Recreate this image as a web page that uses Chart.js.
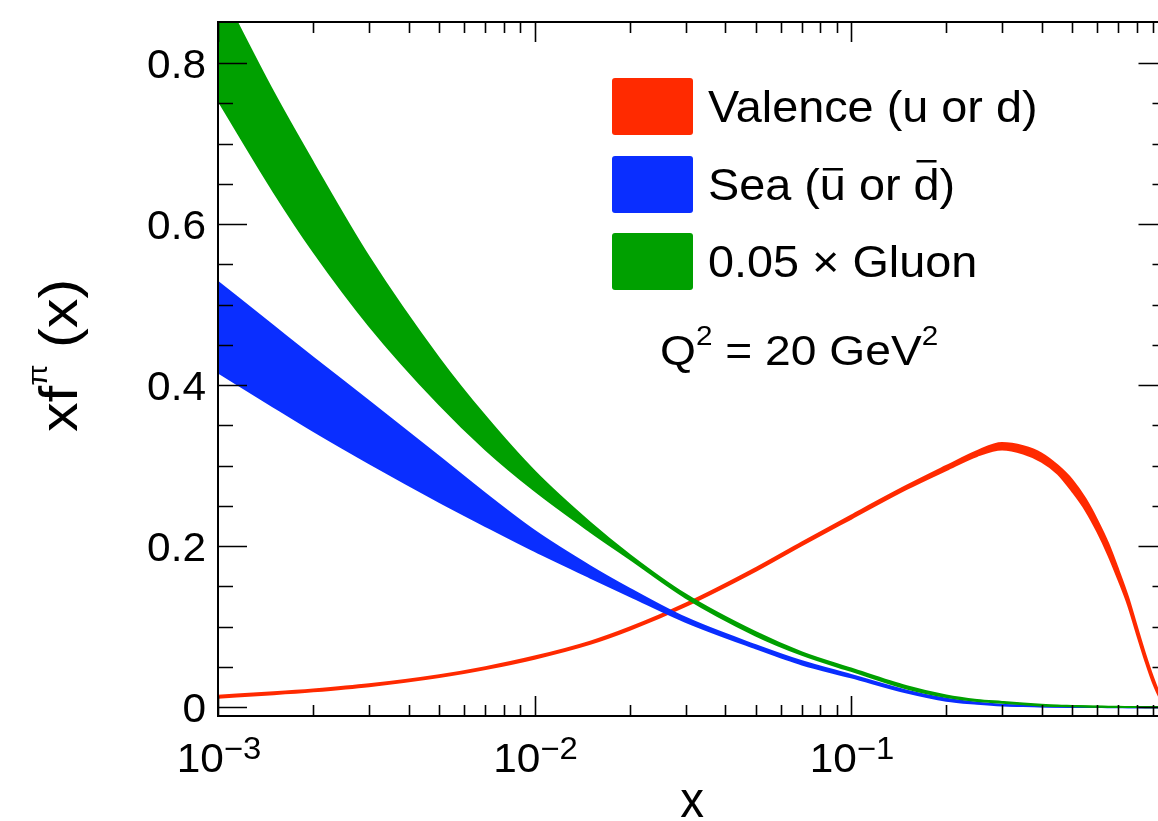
<!DOCTYPE html>
<html>
<head>
<meta charset="utf-8">
<script src="https://cdn.jsdelivr.net/npm/chart.js@4.4.1/dist/chart.umd.min.js"></script>
<style>
  html, body { margin: 0; padding: 0; background: #fff; overflow: hidden; }
  #wrap { width: 1180px; height: 821px; }
</style>
</head>
<body>
<div id="wrap"><canvas id="pdf" width="1180" height="821"></canvas></div>
<script>
// x grid of the curves (momentum fraction)
const xs = [0.001, 0.0015, 0.002, 0.003, 0.005, 0.007, 0.01, 0.015, 0.02, 0.03, 0.05,
            0.07, 0.1, 0.15, 0.2, 0.25, 0.3, 0.35, 0.4, 0.45, 0.5, 0.55, 0.6, 0.65,
            0.7, 0.75, 0.8, 0.85, 0.9, 0.95, 1.0];

// valence band (upper / lower edge)
const valenceHi = [0.0142, 0.0184, 0.0220, 0.0284, 0.0397, 0.0497, 0.0628, 0.0814, 0.0990, 0.1286, 0.1728,
                   0.2048, 0.2380, 0.2750, 0.2995, 0.3180, 0.3280, 0.3240, 0.3150, 0.3000, 0.2820, 0.2590,
                   0.2320, 0.2030, 0.1700, 0.1370, 0.1000, 0.0660, 0.0370, 0.0140, 0];
const valenceLo = [0.0118, 0.0160, 0.0196, 0.0260, 0.0373, 0.0473, 0.0602, 0.0786, 0.0960, 0.1254, 0.1692,
                   0.2012, 0.2340, 0.2710, 0.2945, 0.3120, 0.3200, 0.3150, 0.3050, 0.2900, 0.2680, 0.2450,
                   0.2180, 0.1890, 0.1580, 0.1270, 0.0910, 0.0580, 0.0300, 0.0100, 0];

// sea band
const seaHi = [0.528, 0.473, 0.434, 0.380, 0.311, 0.265, 0.219, 0.175, 0.147, 0.111, 0.077,
               0.057, 0.040, 0.0205, 0.0105, 0.0055, 0.003, 0.002, 0.0012, 0.0008, 0.0005, 0.0003,
               0.0002, 0.00015, 0.0001, 0, 0, 0, 0, 0, 0];
const seaLo = [0.416, 0.373, 0.343, 0.303, 0.255, 0.225, 0.194, 0.161, 0.138, 0.106, 0.073,
               0.053, 0.037, 0.018, 0.008, 0.0042, 0.002, 0.0013, 0.0008, 0.0005, 0.0003, 0.0002,
               0.0001, 0, 0, 0, 0, 0, 0, 0, 0];

// 0.05 x gluon band
const gluonHi = [0.897, 0.763, 0.676, 0.559, 0.433, 0.361, 0.293, 0.229, 0.189, 0.140, 0.093,
                 0.068, 0.048, 0.026, 0.0145, 0.009, 0.0065, 0.0045, 0.003, 0.002, 0.0015, 0.001,
                 0.0008, 0.0006, 0.0004, 0.0003, 0.0002, 0.0001, 0.0001, 0, 0];
const gluonLo = [0.754, 0.640, 0.566, 0.474, 0.376, 0.320, 0.269, 0.218, 0.184, 0.136, 0.089,
                 0.065, 0.045, 0.023, 0.0125, 0.0075, 0.0055, 0.0037, 0.002, 0.0014, 0.001, 0.0007,
                 0.0005, 0.0003, 0.0002, 0.0001, 0.0001, 0, 0, 0, 0];

const legendLabels = ['Valence (u or d)', 'Sea (u or d)', '0.05 \u00d7 Gluon'];
const yTickValues = [0, 0.2, 0.4, 0.6, 0.8];
const yTickLabels = ['0', '0.2', '0.4', '0.6', '0.8'];
const xTickValues = [0.001, 0.01, 0.1];
const xTickExps = ['\u22123', '\u22122', '\u22121'];

const COLORS = {
  valence: '#ff2a00',
  sea: '#0a2eff',
  gluon: '#00a000'
};

const FONT = "'Liberation Sans', Arial, Helvetica, sans-serif";

function band(name, hi, lo, color) {
  const common = {
    borderColor: color,
    backgroundColor: color,
    borderWidth: 2,
    pointRadius: 0,
    cubicInterpolationMode: 'monotone',
    clip: 0
  };
  return [
    { ...common, label: name + ' upper', data: xs.map((x, i) => ({ x, y: hi[i] })), fill: '+1' },
    { ...common, label: name + ' lower', data: xs.map((x, i) => ({ x, y: lo[i] })), fill: false }
  ];
}

// draw a run of text pieces {t, size, dy}, stretched horizontally by sx
function drawRich(ctx, x, y, parts, sx = 1) {
  ctx.save();
  ctx.translate(x, y);
  ctx.scale(sx, 1);
  let cx = 0;
  parts.forEach(p => {
    ctx.font = p.size + 'px ' + FONT;
    ctx.fillText(p.t, cx, p.dy || 0);
    cx += ctx.measureText(p.t).width;
  });
  ctx.restore();
  return x + cx * sx;
}

function richWidth(ctx, parts, sx = 1) {
  let w = 0;
  parts.forEach(p => {
    ctx.font = p.size + 'px ' + FONT;
    w += ctx.measureText(p.t).width;
  });
  return w * sx;
}

const rootFrame = {
  id: 'rootFrame',
  afterDraw(chart) {
    const { ctx, chartArea: a, scales: { x, y } } = chart;
    ctx.save();

    // frame
    ctx.strokeStyle = '#000';
    ctx.lineWidth = 2;
    ctx.strokeRect(a.left, a.top, a.right - a.left, a.bottom - a.top);

    // ticks, pointing inwards
    ctx.lineWidth = 1.6;
    ctx.beginPath();
    for (let i = 0; i <= 16; i++) {
      const py = Math.round(y.getPixelForValue(i * 0.05)) + 0.5;
      const len = i % 4 === 0 ? 29 : 15;
      ctx.moveTo(a.left, py); ctx.lineTo(a.left + len, py);
      ctx.moveTo(a.right, py); ctx.lineTo(a.right - len, py);
    }
    [0.001, 0.01, 0.1].forEach(d => {
      for (let k = 1; k <= 9; k++) {
        const px = Math.round(x.getPixelForValue(d * k)) + 0.5;
        const len = k === 1 ? 20 : 11;
        ctx.moveTo(px, a.bottom); ctx.lineTo(px, a.bottom - len);
        ctx.moveTo(px, a.top); ctx.lineTo(px, a.top + len);
      }
    });
    ctx.stroke();

    ctx.fillStyle = '#000';
    ctx.textAlign = 'left';
    ctx.textBaseline = 'alphabetic';

    // y tick labels, right aligned
    yTickValues.forEach((v, i) => {
      const parts = [{ t: yTickLabels[i], size: 40 }];
      const w = richWidth(ctx, parts, 1.06);
      drawRich(ctx, 206 - w, y.getPixelForValue(v) + 14.5, parts, 1.06);
    });

    // x tick labels 10^n
    xTickValues.forEach((v, i) => {
      const parts = [
        { t: '10', size: 40 },
        { t: xTickExps[i], size: 31, dy: -13 }
      ];
      const w = richWidth(ctx, parts, 1.06);
      drawRich(ctx, x.getPixelForValue(v) - w / 2 + 1, 772, parts, 1.06);
    });

    // axis titles
    const xt = [{ t: 'x', size: 50 }];
    drawRich(ctx, 692 - richWidth(ctx, xt, 0.95) / 2, 817, xt, 0.95);

    ctx.save();
    ctx.translate(77, 432);
    ctx.rotate(-Math.PI / 2);
    drawRich(ctx, 0, 0, [
      { t: 'xf', size: 54 },
      { t: '\u03c0', size: 28, dy: -30 },
      { t: ' (x)', size: 54 }
    ], 1.1);
    ctx.restore();

    // legend
    const boxes = [
      { y: 78, color: COLORS.valence },
      { y: 156, color: COLORS.sea },
      { y: 233, color: COLORS.gluon }
    ];
    boxes.forEach((b, i) => {
      ctx.fillStyle = b.color;
      ctx.beginPath();
      ctx.roundRect(612, b.y, 81, 57, 3);
      ctx.fill();
      ctx.fillStyle = '#000';
      const base = b.y + 44;
      if (i === 1) {
        // Sea (u or d) with bars over the antiquarks
        let cx = 708;
        const segs = ['Sea (', 'u', ' or ', 'd', ')'];
        segs.forEach((s, k) => {
          const nx = drawRich(ctx, cx, base, [{ t: s, size: 45 }], 1.04);
          if (k === 1) ctx.fillRect(cx + 3, base - 32, nx - cx - 6, 2.5);
          if (k === 3) ctx.fillRect(cx + 3, base - 40, nx - cx - 6, 2.5);
          cx = nx;
        });
      } else {
        drawRich(ctx, 708, base, [{ t: legendLabels[i], size: 45 }], 1.04);
      }
    });

    // Q^2 label
    ctx.fillStyle = '#000';
    const cx = drawRich(ctx, 660, 365, [
      { t: 'Q', size: 42 },
      { t: '2', size: 27, dy: -20 },
      { t: ' = 20 GeV', size: 42 }
    ], 1.1);
    drawRich(ctx, cx, 365, [{ t: '2', size: 27, dy: -20 }], 1.1);

    ctx.restore();
  }
};

const ctx = document.getElementById('pdf').getContext('2d');
new Chart(ctx, {
  type: 'line',
  data: {
    datasets: [
      ...band('Gluon', gluonHi, gluonLo, COLORS.gluon),
      ...band('Sea', seaHi, seaLo, COLORS.sea),
      ...band('Valence', valenceHi, valenceLo, COLORS.valence)
    ]
  },
  options: {
    responsive: false,
    animation: false,
    devicePixelRatio: 1,
    layout: { padding: { left: 218, top: 22, right: 12.5, bottom: 105 } },
    plugins: {
      legend: { display: false },
      tooltip: { enabled: false }
    },
    scales: {
      x: { type: 'logarithmic', min: 0.001, max: 1, display: false },
      y: { type: 'linear', min: -0.011, max: 0.851, display: false }
    }
  },
  plugins: [rootFrame]
});
</script>
</body>
</html>
